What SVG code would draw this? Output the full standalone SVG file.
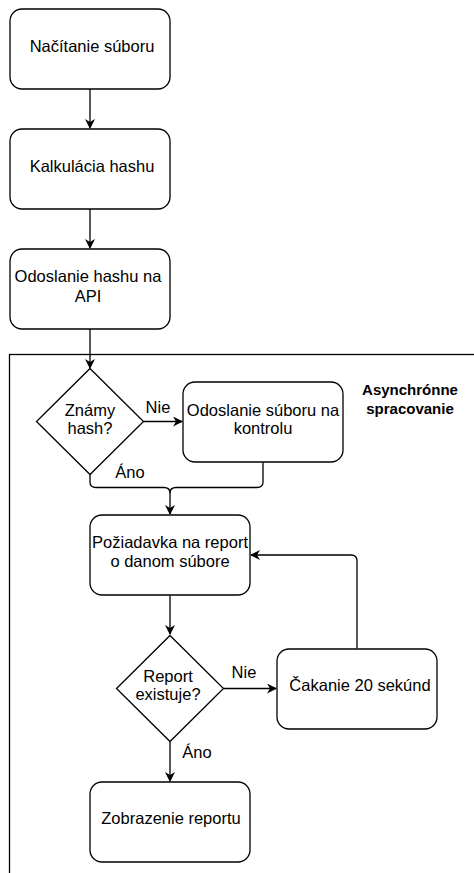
<svg xmlns="http://www.w3.org/2000/svg" width="474" height="873" viewBox="0 0 474 873">
  <style>
    .box { fill: #ffffff; stroke: #000000; stroke-width: 1.3; }
    .edge { fill: none; stroke: #000000; stroke-width: 1.3; }
    .frame { fill: none; stroke: #000000; stroke-width: 1.3; }
    text { font-family: "Liberation Sans", Arial, sans-serif; font-size: 16.5px; fill: #000000; text-anchor: middle; }
    .bold { font-weight: bold; font-size: 15px; }
  </style>
  <defs>
    <marker id="arrow" viewBox="0 0 10 10" refX="9" refY="5" markerWidth="10" markerHeight="10" markerUnits="userSpaceOnUse" orient="auto">
      <path d="M0,0 L10,5 L0,10 L3,5 Z" fill="#000000"/>
    </marker>
  </defs>

  <rect width="474" height="873" fill="#ffffff"/>

  <!-- asynchronous processing frame -->
  <g id="async-frame">
    <rect class="frame" x="9.5" y="354.5" width="520" height="560"/>
    <text class="bold" x="410" y="395">Asynchrónne</text>
    <text class="bold" x="410" y="414">spracovanie</text>
  </g>

  <g id="edges">
    <path class="edge" d="M90 88.5 V128" marker-end="url(#arrow)"/>
    <path class="edge" d="M90 208.5 V248" marker-end="url(#arrow)"/>
    <path class="edge" d="M90 328.5 V368" marker-end="url(#arrow)"/>
    <path class="edge" d="M143.5 421.5 H182" marker-end="url(#arrow)"/>
    <path class="edge" d="M90 474.5 V482 Q90 487.5 96 487.5 H164 Q170 487.5 170 493 V514" marker-end="url(#arrow)"/>
    <path class="edge" d="M263 462.5 V482 Q263 487.5 257 487.5 H176 Q170 487.5 170 493"/>
    <path class="edge" d="M170 595.5 V634" marker-end="url(#arrow)"/>
    <path class="edge" d="M223.5 688.5 H276" marker-end="url(#arrow)"/>
    <path class="edge" d="M357 648.5 V561 Q357 555 351 555 H251" marker-end="url(#arrow)"/>
    <path class="edge" d="M170 741.5 V781" marker-end="url(#arrow)"/>
    <text x="158" y="413">Nie</text>
    <text x="130" y="478">Áno</text>
    <text x="244" y="678">Nie</text>
    <text x="197" y="758">Áno</text>
  </g>

  <g id="load-file">
    <rect class="box" x="10" y="9" width="160" height="80" rx="12"/>
    <text x="92" y="52">Načítanie súboru</text>
  </g>

  <g id="calc-hash">
    <rect class="box" x="10" y="129" width="160" height="80" rx="12"/>
    <text x="92" y="172">Kalkulácia hashu</text>
  </g>

  <g id="send-hash">
    <rect class="box" x="10" y="249" width="160" height="80" rx="12"/>
    <text x="88" y="282">Odoslanie hashu na</text>
    <text x="88" y="302">API</text>
  </g>

  <g id="known-hash">
    <path class="box" d="M90 368.5 L143.5 421.5 L90 474.5 L36.5 421.5 Z"/>
    <text x="90" y="416">Známy</text>
    <text x="90" y="434">hash?</text>
  </g>

  <g id="send-file">
    <rect class="box" x="183" y="382" width="160" height="80" rx="12"/>
    <text x="263" y="416">Odoslanie súboru na</text>
    <text x="263" y="434">kontrolu</text>
  </g>

  <g id="request-report">
    <rect class="box" x="90" y="515" width="160" height="80" rx="12"/>
    <text x="170" y="548">Požiadavka na report</text>
    <text x="170" y="567">o danom súbore</text>
  </g>

  <g id="report-exists">
    <path class="box" d="M170 635.5 L223.5 688.5 L170 741.5 L116.5 688.5 Z"/>
    <text x="168" y="682">Report</text>
    <text x="168" y="700">existuje?</text>
  </g>

  <g id="wait">
    <rect class="box" x="277" y="649" width="160" height="80" rx="12"/>
    <text x="360" y="691">Čakanie 20 sekúnd</text>
  </g>

  <g id="show-report">
    <rect class="box" x="90" y="782" width="160" height="80" rx="12"/>
    <text x="171" y="824">Zobrazenie reportu</text>
  </g>
</svg>
